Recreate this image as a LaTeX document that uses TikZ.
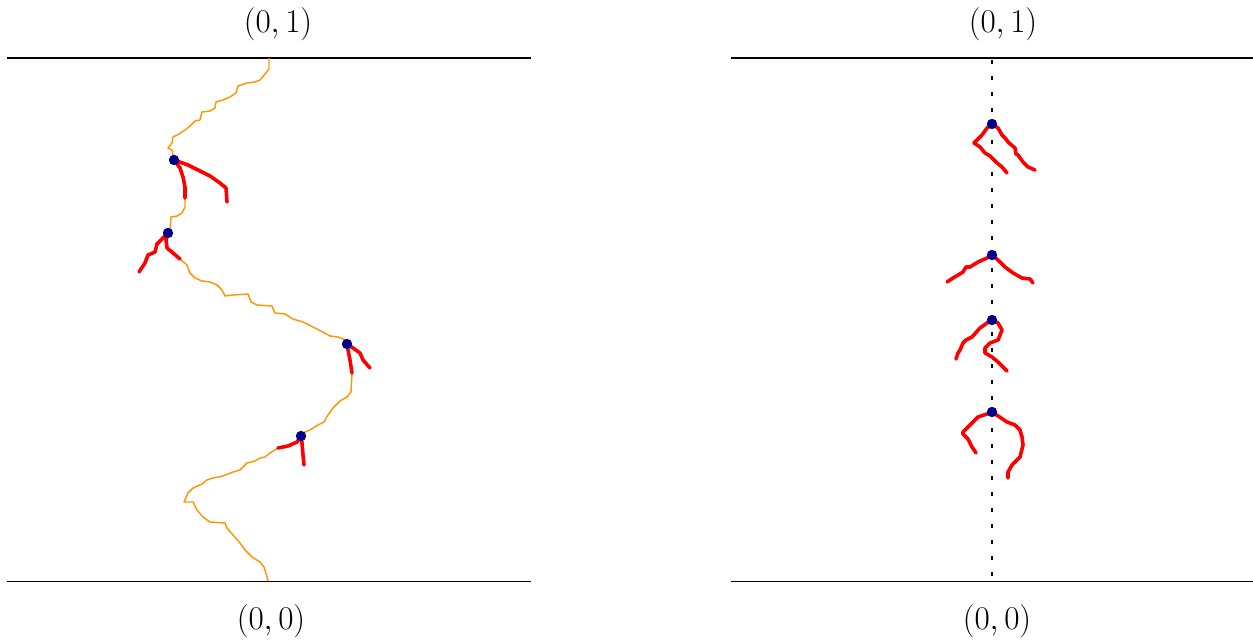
\documentclass[tikz,border=0pt]{standalone}
\usetikzlibrary{calc}
\definecolor{walk}{RGB}{255,150,10}
\definecolor{dotblue}{RGB}{0,0,140}
\begin{document}
\begin{tikzpicture}[x=0.75pt,y=-0.75pt,
  boundary/.style={line width=1.3pt,black},
  walkline/.style={walk,line width=1.1pt,line join=round},
  branch/.style={red,line width=2.7pt,line cap=round,line join=round},
  vaxis/.style={black,line width=0.9pt,dash pattern=on 3pt off 9pt},
  dotnode/.style={circle,fill=dotblue,inner sep=0pt,minimum size=7.8pt},
  lbl/.style={inner sep=0pt,font=\fontsize{27}{32}\selectfont}]
\useasboundingbox (0,0) rectangle (1253,642);
% labels
\node[lbl] (t1) at (278,24.5) {$(0,1)$};
\node[lbl] (b1) at (271,621) {$(0,0)$};
\node[lbl] (t2) at (1003,24.5) {$(0,1)$};
\node[lbl] (b2) at (997,621) {$(0,0)$};
% boundary lines
\coordinate (l1a) at (7,58); \coordinate (l1b) at (531,58);
\coordinate (l2a) at (7,581.5); \coordinate (l2b) at (531,581.5);
\coordinate (r1a) at (731,58); \coordinate (r1b) at (1253,58);
\coordinate (r2a) at (731,581.5); \coordinate (r2b) at (1253,581.5);
\draw[boundary] (l1a) -- (l1b);
\draw[boundary] (l2a) -- (l2b);
\draw[boundary] (r1a) -- (r1b);
\draw[boundary] (r2a) -- (r2b);
% dots positions
\coordinate (wtop) at (269,58);
\coordinate (wbot) at (268,581);
\coordinate (p1) at (174,160);
\coordinate (p2) at (168,233);
\coordinate (p3) at (347,344);
\coordinate (p4) at (301,436);
\coordinate (vtop) at (992,60);
\coordinate (vbot) at (992,581);
\coordinate (p5) at (992,124);
\coordinate (p6) at (992,255);
\coordinate (p7) at (992,320);
\coordinate (p8) at (992,412);
% orange walk
\draw[walkline] (wtop) -- (269,69) -- (265,74) -- (260,80) -- (255,82) -- (247,83) -- (238,86) -- (236,93) -- (230,97) -- (223,100) -- (216,102) -- (215,108) -- (210,111) -- (202,112) -- (200,120) -- (195,121) -- (190,126) -- (185,130) -- (179,134) -- (173,137) -- (172,143) -- (168,148) -- (172,150) -- (p1)
 -- (180,168) -- (183,177) -- (185,187) -- (185,198) -- (185,207) -- (182,213) -- (177,216) -- (171,217) -- (170,230) -- (p2)
 -- (166,240) -- (167,248) -- (173,253) -- (180,259) -- (187,265) -- (190,273) -- (195,278) -- (202,281) -- (210,282) -- (217,285) -- (222,290) -- (225,296) -- (233,295) -- (248,294) -- (251,302) -- (257,305) -- (272,306) -- (275,313) -- (285,314) -- (293,319) -- (303,322) -- (313,327) -- (323,332) -- (330,336) -- (338,337) -- (346,340) -- (p3)
 -- (348,350) -- (350,360) -- (352,373) -- (351,392) -- (347,397) -- (340,401) -- (333,408) -- (328,415) -- (324,422) -- (318,425) -- (310,430) -- (305,432) -- (p4)
 -- (297,442) -- (288,446) -- (278,448) -- (270,453) -- (265,457) -- (260,458) -- (255,461) -- (247,463) -- (240,470) -- (233,472) -- (223,476) -- (213,478) -- (207,480) -- (202,484) -- (193,488) -- (188,493) -- (184,502) -- (193,502) -- (197,510) -- (203,517) -- (210,522) -- (225,523) -- (227,528) -- (233,535) -- (240,543) -- (245,550) -- (252,557) -- (260,562) -- (264,567) -- (267,577) -- (wbot);
% dotted axis
\draw[vaxis] (vtop) -- (vbot);
% left branches
\draw[branch] (p1) -- (180,168) -- (183,177) -- (185,187) -- (185,198);
\draw[branch] (p1) -- (188,165) -- (200,171) -- (210,176) -- (220,183) -- (226,188) -- (227,202);
\draw[branch] (p2) -- (163,238) -- (157,244) -- (155,252) -- (148,255) -- (145,263) -- (139,272);
\draw[branch] (p2) -- (166,240) -- (167,248) -- (173,253) -- (180,259);
\draw[branch] (p3) -- (348,350) -- (350,360) -- (352,373);
\draw[branch] (p3) -- (353,348) -- (360,353) -- (363,360) -- (370,368);
\draw[branch] (p4) -- (297,442) -- (288,446) -- (278,448);
\draw[branch] (p4) -- (302,443) -- (303,455) -- (304,465);
% right branches
\draw[branch] (p5) -- (987,128) -- (982,135) -- (974,143) -- (980,147) -- (985,153) -- (990,156) -- (992,158) -- (997,163) -- (1002,167) -- (1007,173);
\draw[branch] (p5) -- (998,128) -- (1002,135) -- (1006,139) -- (1008,142) -- (1015,148) -- (1016,154) -- (1018,155) -- (1023,162) -- (1028,167) -- (1035,170);
\draw[branch] (p6) -- (987,258) -- (978,262) -- (970,267) -- (966,267) -- (963,272) -- (958,275) -- (953,278) -- (947,282);
\draw[branch] (p6) -- (998,260) -- (1005,267) -- (1013,273) -- (1022,278) -- (1030,279) -- (1033,283);
\draw[branch] (p7) -- (987,323) -- (980,328) -- (972,337) -- (966,340) -- (963,343) -- (960,350) -- (958,353) -- (956,359);
\draw[branch] (p7) -- (998,323) -- (1002,330) -- (998,340) -- (990,343) -- (985,348) -- (985,353) -- (992,357) -- (998,362) -- (1007,371);
\draw[branch] (p8) -- (987,414) -- (978,417) -- (972,423) -- (963,432) -- (963,434) -- (968,439) -- (972,447) -- (976,453);
\draw[branch] (p8) -- (998,416) -- (1007,422) -- (1015,425) -- (1020,430) -- (1022,437) -- (1023,445) -- (1020,457) -- (1012,465) -- (1008,472) -- (1008,478);
% dots
\node[dotnode] (d1) at (p1) {};
\node[dotnode] (d2) at (p2) {};
\node[dotnode] (d3) at (p3) {};
\node[dotnode] (d4) at (p4) {};
\node[dotnode] (d5) at (p5) {};
\node[dotnode] (d6) at (p6) {};
\node[dotnode] (d7) at (p7) {};
\node[dotnode] (d8) at (p8) {};
\end{tikzpicture}
\end{document}
